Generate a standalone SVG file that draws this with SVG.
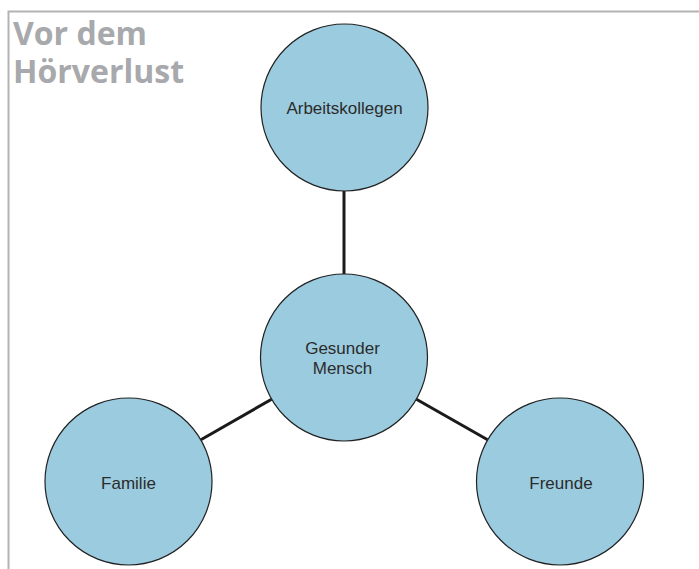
<svg xmlns="http://www.w3.org/2000/svg" width="699" height="569" viewBox="0 0 699 569">
<style>
.node circle{fill:#9bcbdf;stroke:#222;stroke-width:1.2}
.node text{font-family:"Liberation Sans",Arial,sans-serif;font-size:17px;fill:#2b2b2b;text-anchor:middle}
.edge{stroke:#1a1a1a;stroke-width:3;fill:none}
.title{font-family:"Open Sans",sans-serif;font-weight:bold;font-size:32px;fill:#a7a9ac}
</style>
<rect width="699" height="569" fill="#fff"/>
<path d="M8.5,569 V11.5 H699" fill="none" stroke="#b3b3b3" stroke-width="2"/>
<text class="title" x="13" y="45">Vor dem</text>
<text class="title" x="13" y="83">Hörverlust</text>
<g id="connectors">
<line class="edge" x1="344" y1="191" x2="344" y2="274"/>
<line class="edge" x1="271.6" y1="399.2" x2="200.9" y2="439.8"/>
<line class="edge" x1="416.4" y1="399.2" x2="487.6" y2="439.8"/>
</g>
<g id="arbeitskollegen" class="node">
<circle cx="344.5" cy="107.5" r="83.5"/>
<text x="344.5" y="114">Arbeitskollegen</text>
</g>
<g id="gesunder-mensch" class="node">
<circle cx="344" cy="357.5" r="83.5"/>
<text x="342.5" y="354">Gesunder</text>
<text x="342.5" y="374">Mensch</text>
</g>
<g id="familie" class="node">
<circle cx="128.5" cy="481.5" r="83.5"/>
<text x="128.5" y="489">Familie</text>
</g>
<g id="freunde" class="node">
<circle cx="560" cy="481.5" r="83.5"/>
<text x="561" y="489">Freunde</text>
</g>
</svg>
